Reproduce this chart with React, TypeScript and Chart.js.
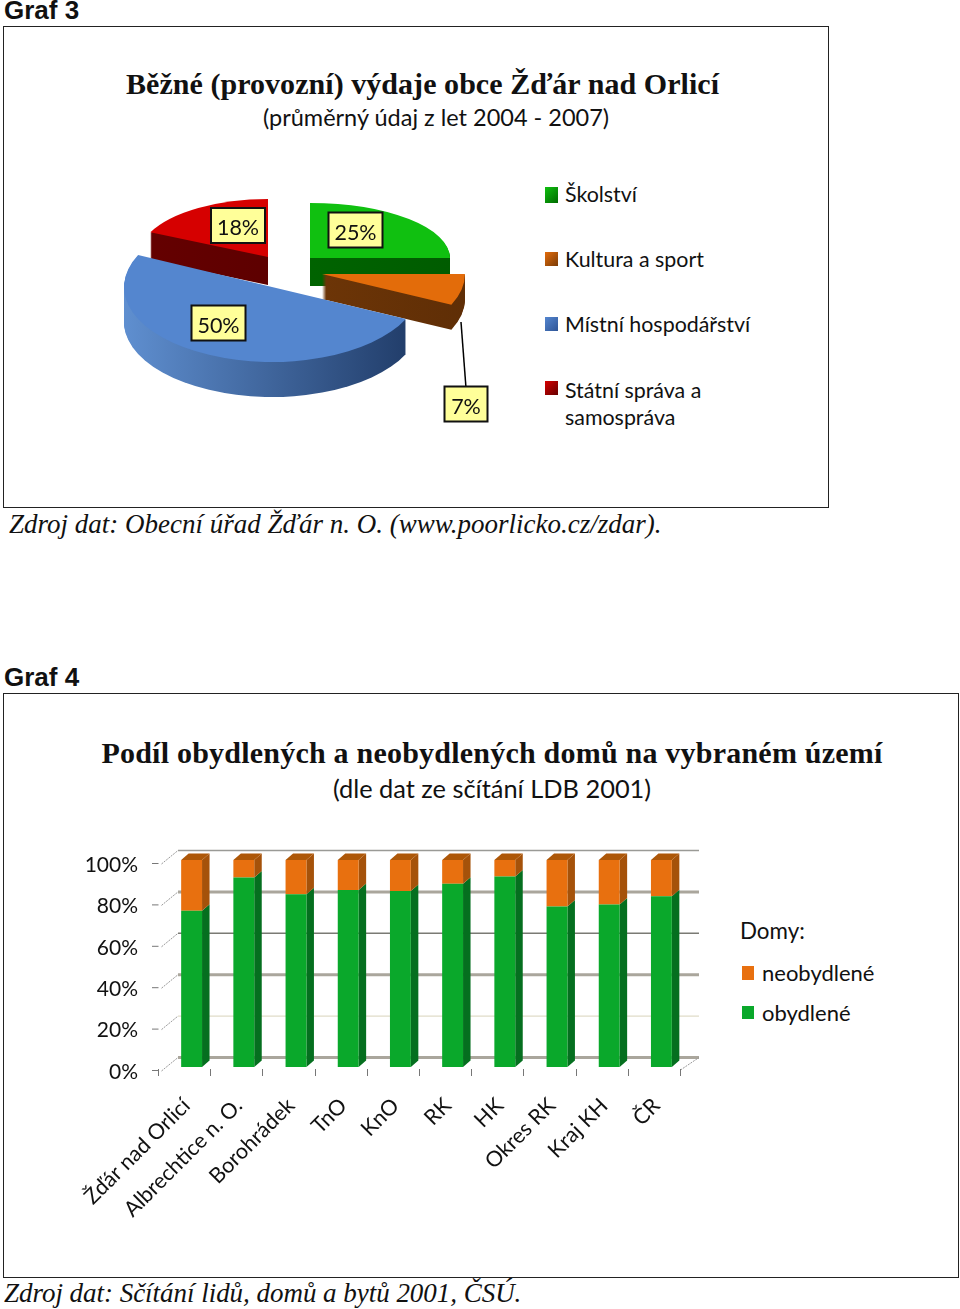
import React, { useEffect, useRef } from "react";
import { Chart, registerables } from "chart.js";

Chart.register(...registerables);

const pieLabels = ["Školství", "Kultura a sport", "Místní hospodářství", "Státní správa a samospráva"];
const pieValues = [25, 7, 50, 18];
const barCategories = ["Žďár nad Orlicí", "Albrechtice n. O.", "Borohrádek", "TnO", "KnO", "RK", "HK", "Okres RK", "Kraj KH", "ČR"];
const occupied = [75.5, 91.5, 83.5, 85.5, 85, 88.5, 92, 77.5, 78.5, 82.5];
const vacant = [24.5, 8.5, 16.5, 14.5, 15, 11.5, 8, 22.5, 21.5, 17.5];

const PIE_BOX = { left: 100, top: 180, width: 400, height: 260 };
const pieTop = ["#10c010", "#e36c0a", "#5486cf", "#d60000"];
const pieSide = [["#006a00", "#005c00"], ["#7a3c08", "#5f2e06"], ["#5f8fd0", "#1f3a66"], ["#650000", "#560000"]];
const pieCentre = [[310, 258], [322, 274], [272, 287], [268, 257]];
const pieRadii = [[140, 55], [143, 72], [148, 75], [130, 58]];
const pieDepth = [28, 25, 35, 28];
const pieBoxCentre = [[355.5, 230], [466, 404], [218.5, 323], [238, 225.5]];
const drawOrder = [3, 0, 1, 2];

const piePlugin = {
  id: "pie3d",
  beforeDatasetDraw(chart: any) {
    const ctx = chart.ctx;
    const arcs = chart.getDatasetMeta(0).data;
    for (const i of drawOrder) {
      const arc = arcs[i];
      const cx = pieCentre[i][0] - PIE_BOX.left;
      const cy = pieCentre[i][1] - PIE_BOX.top;
      const [rx, ry] = pieRadii[i];
      const g = ctx.createLinearGradient(cx - rx, 0, cx + rx, 0);
      g.addColorStop(0, pieSide[i][0]);
      g.addColorStop(1, pieSide[i][1]);
      ctx.save();
      ctx.fillStyle = g;
      for (let d = pieDepth[i]; d >= 1; d--) {
        ctx.beginPath();
        ctx.moveTo(cx, cy + d);
        ctx.ellipse(cx, cy + d, rx, ry, 0, arc.startAngle, arc.endAngle);
        ctx.closePath();
        ctx.fill();
      }
      ctx.restore();
      ctx.save();
      ctx.translate(cx, cy);
      ctx.scale(rx / arc.outerRadius, ry / arc.outerRadius);
      ctx.translate(-arc.x, -arc.y);
      arc.draw(ctx);
      ctx.restore();
    }
    // leader line of the smallest slice
    ctx.save();
    ctx.strokeStyle = "#000";
    ctx.lineWidth = 1.5;
    ctx.beginPath();
    ctx.moveTo(461 - PIE_BOX.left, 322 - PIE_BOX.top);
    ctx.lineTo(466 - PIE_BOX.left, 388 - PIE_BOX.top);
    ctx.stroke();
    // data labels
    pieValues.forEach((v, i) => {
      const text = `${v}%`;
      const w = v < 10 ? 43 : 54;
      const h = 35;
      const x = pieBoxCentre[i][0] - PIE_BOX.left;
      const y = pieBoxCentre[i][1] - PIE_BOX.top;
      ctx.fillStyle = "#ffff99";
      ctx.fillRect(x - w / 2, y - h / 2, w, h);
      ctx.lineWidth = 2;
      ctx.strokeStyle = "#111";
      ctx.strokeRect(x - w / 2, y - h / 2, w, h);
      ctx.fillStyle = "#111";
      ctx.font = "21.5px Lato";
      ctx.textAlign = "center";
      ctx.textBaseline = "middle";
      ctx.fillText(text, x, y + 3);
    });
    ctx.restore();
    return false;
  },
};

const wallStyle = [
  { w: 3, c: "#aaa69c" },
  { w: 1.2, c: "#e0dcc8" },
  { w: 3, c: "#aaa69c" },
  { w: 1.5, c: "#7a7a74" },
  { w: 3, c: "#aaa69c" },
  { w: 1.5, c: "#9a9a96" },
];
const DX = 7.5;
const DY = 6.5;
const sideFill = ["#056f1f", "#a5520a"];

const barPlugin = {
  id: "bar3d",
  beforeDatasetsDraw(chart: any) {
    const ctx = chart.ctx;
    const yS = chart.scales.y;
    const area = chart.chartArea;
    const wallL = area.left + 12.5;
    const wallR = area.right + 11.5;
    ctx.save();
    yS.ticks.forEach((t: any, k: number) => {
      const y = yS.getPixelForValue(t.value);
      const st = wallStyle[k] || wallStyle[0];
      // back wall line
      ctx.strokeStyle = st.c;
      ctx.lineWidth = st.w;
      ctx.beginPath();
      ctx.moveTo(wallL, y - 9.5);
      ctx.lineTo(wallR, y - 9.5);
      ctx.stroke();
      // tick dash + slanted wall edge
      ctx.strokeStyle = "#777";
      ctx.lineWidth = 1;
      ctx.beginPath();
      ctx.moveTo(area.left - 13.5, y + 3.5);
      ctx.lineTo(area.left - 7, y + 3.5);
      ctx.stroke();
      ctx.strokeStyle = "#999";
      ctx.setLineDash([2, 1]);
      ctx.beginPath();
      ctx.moveTo(area.left - 4, y + 4);
      ctx.lineTo(wallL, y - 9.5);
      ctx.stroke();
      ctx.setLineDash([]);
    });
    // right slanted floor edge and x tick marks
    const y0 = yS.getPixelForValue(0);
    ctx.strokeStyle = "#999";
    ctx.setLineDash([2, 1]);
    ctx.beginPath();
    ctx.moveTo(area.right - 7, y0 + 3);
    ctx.lineTo(wallR, y0 - 9.5);
    ctx.stroke();
    ctx.setLineDash([]);
    ctx.strokeStyle = "#777";
    ctx.lineWidth = 1;
    const n = barCategories.length;
    for (let i = 0; i <= n; i++) {
      const x = Math.round(area.left + (i * (area.right - area.left)) / n - 7.5) + 0.5;
      ctx.beginPath();
      ctx.moveTo(x, y0 + 2);
      ctx.lineTo(x, y0 + 9);
      ctx.stroke();
    }
    // side and top faces of the stacked bars
    chart.data.datasets.forEach((_: any, ds: number) => {
      chart.getDatasetMeta(ds).data.forEach((b: any) => {
        const xr = b.x + b.width / 2;
        const xl = b.x - b.width / 2;
        ctx.fillStyle = sideFill[ds];
        ctx.beginPath();
        ctx.moveTo(xr, b.y);
        ctx.lineTo(xr + DX, b.y - DY);
        ctx.lineTo(xr + DX, b.base - DY);
        ctx.lineTo(xr, b.base);
        ctx.closePath();
        ctx.fill();
        if (ds === 1) {
          ctx.fillStyle = "#ad5708";
          ctx.beginPath();
          ctx.moveTo(xl, b.y);
          ctx.lineTo(xl + DX, b.y - DY);
          ctx.lineTo(xr + DX, b.y - DY);
          ctx.lineTo(xr, b.y);
          ctx.closePath();
          ctx.fill();
        }
      });
    });
    ctx.restore();
  },
};

const BAR_BOX = { left: 0, top: 830, width: 720, height: 440 };
const PLOT = { left: 165.5, right: 687.5, top: 860, bottom: 1067 };

function Txt({ x, y, size, font, children, bold, italic, center, spacing }: any) {
  return (
    <div
      style={{
        position: "absolute",
        left: x,
        top: y,
        transform: center ? "translate(-50%,-50%)" : "translateY(-50%)",
        fontFamily: font,
        fontSize: size,
        fontWeight: bold ? 700 : 400,
        fontStyle: italic ? "italic" : "normal",
        letterSpacing: spacing || 0,
        whiteSpace: "nowrap",
        lineHeight: 1.2,
        color: "#111",
      }}
    >
      {children}
    </div>
  );
}

function Sq({ x, y, w, h, bg }: any) {
  return <div style={{ position: "absolute", left: x, top: y, width: w, height: h, background: bg }} />;
}

export default function App() {
  const pieRef = useRef<HTMLCanvasElement>(null);
  const barRef = useRef<HTMLCanvasElement>(null);

  useEffect(() => {
    const pie = new Chart(pieRef.current!, {
      type: "pie",
      data: {
        labels: pieLabels,
        datasets: [{ data: pieValues, backgroundColor: pieTop, borderWidth: 0 }],
      },
      options: {
        responsive: false,
        animation: false,
        events: [],
        plugins: { legend: { display: false }, tooltip: { enabled: false } },
      },
      plugins: [piePlugin],
    } as any);

    const bar = new Chart(barRef.current!, {
      type: "bar",
      data: {
        labels: barCategories,
        datasets: [
          { label: "obydlené", data: occupied, backgroundColor: "#0aa82b", stack: "a", barPercentage: 0.4, categoryPercentage: 1 },
          { label: "neobydlené", data: vacant, backgroundColor: "#e8700f", stack: "a", barPercentage: 0.4, categoryPercentage: 1 },
        ],
      },
      options: {
        responsive: false,
        animation: false,
        events: [],
        layout: {
          padding: { top: PLOT.top - BAR_BOX.top, right: BAR_BOX.width - PLOT.right, left: 0, bottom: 0 },
        },
        plugins: { legend: { display: false }, tooltip: { enabled: false } },
        scales: {
          x: {
            stacked: true,
            border: { display: false },
            grid: { display: false, drawTicks: false },
            ticks: {
              autoSkip: false,
              minRotation: 45,
              maxRotation: 45,
              padding: 26,
              labelOffset: -5,
              color: "#111",
              font: { family: "Lato", size: 21.5 },
            },
            afterFit: (s: any) => {
              s.height = BAR_BOX.top + BAR_BOX.height - PLOT.bottom;
            },
          },
          y: {
            stacked: true,
            min: 0,
            max: 100,
            border: { display: false },
            grid: { display: false, drawTicks: false },
            ticks: {
              stepSize: 20,
              padding: 27.5,
              labelOffset: 5,
              color: "#111",
              font: { family: "Lato", size: 21 },
              callback: (v: any) => `${v}%`,
            },
            afterFit: (s: any) => {
              s.width = PLOT.left;
              s.paddingTop = 0;
              s.paddingBottom = 0;
            },
          },
        },
      },
      plugins: [barPlugin],
    } as any);

    return () => {
      pie.destroy();
      bar.destroy();
    };
  }, []);

  const cal = "Lato";
  const serif = "'Liberation Serif'";
  const sans = "'Liberation Sans'";
  return (
    <div style={{ position: "absolute", left: 0, top: 0, width: 960, height: 1309, overflow: "hidden", background: "#fff" }}>
      <Txt x={4} y={11} size={26} font={sans} bold>Graf 3</Txt>
      <div style={{ position: "absolute", left: 3, top: 26, width: 826, height: 482, border: "1px solid #222", boxSizing: "border-box" }} />
      <Txt x={422.5} y={84} size={30} font={serif} bold center spacing={0.05}>Běžné (provozní) výdaje obce Žďár nad Orlicí</Txt>
      <Txt x={436} y={117} size={23.5} font={cal} center>(průměrný údaj z let 2004 - 2007)</Txt>

      <canvas ref={pieRef} width={PIE_BOX.width} height={PIE_BOX.height} style={{ position: "absolute", left: PIE_BOX.left, top: PIE_BOX.top, width: PIE_BOX.width, height: PIE_BOX.height }} />

      <Sq x={545} y={187} w={13} h={16} bg="linear-gradient(135deg,#10c010,#006a00)" />
      <Txt x={565} y={195} size={21.4} font={cal}>Školství</Txt>
      <Sq x={545} y={252} w={13} h={14} bg="linear-gradient(135deg,#e36c0a,#7a3c08)" />
      <Txt x={565} y={260} size={21.4} font={cal}>Kultura a sport</Txt>
      <Sq x={545} y={317} w={13} h={14} bg="linear-gradient(135deg,#5486cf,#2f5597)" />
      <Txt x={565} y={325} size={21.4} font={cal}>Místní hospodářství</Txt>
      <Sq x={545} y={381} w={13} h={14} bg="linear-gradient(135deg,#d60000,#650000)" />
      <Txt x={565} y={391} size={21.4} font={cal}>Státní správa a</Txt>
      <Txt x={565} y={418} size={21.4} font={cal}>samospráva</Txt>

      <Txt x={9} y={524} size={27} font={serif} italic>Zdroj dat: Obecní úřad Žďár n. O. (www.poorlicko.cz/zdar).</Txt>

      <Txt x={4} y={678} size={26} font={sans} bold>Graf 4</Txt>
      <div style={{ position: "absolute", left: 3, top: 693, width: 956, height: 585, border: "1px solid #222", boxSizing: "border-box" }} />
      <Txt x={492} y={753} size={30} font={serif} bold center spacing={0.22}>Podíl obydlených a neobydlených domů na vybraném území</Txt>
      <Txt x={492} y={788} size={25.4} font={cal} center>(dle dat ze sčítání LDB 2001)</Txt>

      <canvas ref={barRef} width={BAR_BOX.width} height={BAR_BOX.height} style={{ position: "absolute", left: BAR_BOX.left, top: BAR_BOX.top, width: BAR_BOX.width, height: BAR_BOX.height }} />

      <Txt x={740} y={931} size={22.4} font={cal}>Domy:</Txt>
      <Sq x={742} y={966} w={12} h={14} bg="#e8700f" />
      <Txt x={762} y={973} size={22} font={cal}>neobydlené</Txt>
      <Sq x={742} y={1006} w={12} h={13} bg="#0aa82b" />
      <Txt x={762} y={1013} size={22} font={cal}>obydlené</Txt>

      <Txt x={4} y={1293} size={27} font={serif} italic spacing={-0.03}>Zdroj dat: Sčítání lidů, domů a bytů 2001, ČSÚ.</Txt>
    </div>
  );
}
